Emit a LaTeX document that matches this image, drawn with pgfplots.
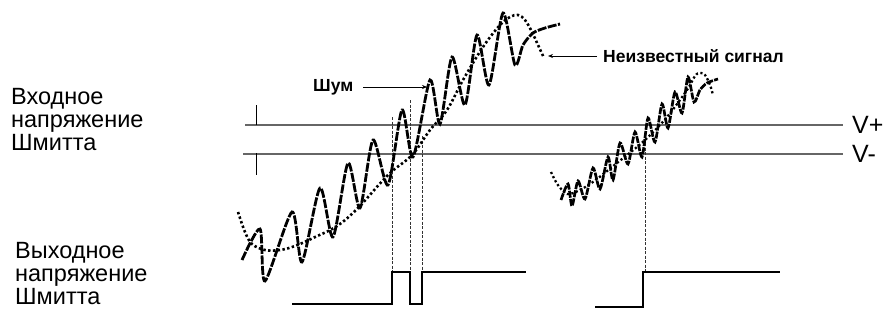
\documentclass[border=0pt]{standalone}
\usepackage{fontspec}
\setmainfont{Liberation Sans}
\usepackage{pgfplots}
\pgfplotsset{compat=1.18}
\usetikzlibrary{arrows.meta}
\begin{document}
\begin{tikzpicture}
\begin{axis}[scale only axis, width=887bp, height=309bp,
  xmin=0, xmax=887, ymin=0, ymax=309, y dir=reverse,
  hide axis, clip=false]
\path (rel axis cs:0,0) rectangle (rel axis cs:1,1);
% threshold lines
\addplot[gray!80!black, line width=1.3bp] coordinates {(245,125) (843,125)};
\addplot[gray!80!black, line width=1.3bp] coordinates {(243,154) (843,154)};
\addplot[black, line width=0.6bp] coordinates {(256,105) (256,125)};
\addplot[black, line width=0.6bp] coordinates {(256,153) (256,175)};
% dashed verticals
\addplot[black!80, line width=0.6bp, dash pattern=on 3bp off 1.5bp] coordinates {(392,117) (392,272)};
\addplot[black!80, line width=0.6bp, dash pattern=on 3bp off 1.5bp] coordinates {(410,100) (410,272)};
\addplot[black!80, line width=0.6bp, dash pattern=on 3bp off 1.5bp] coordinates {(422,136) (422,272)};
\addplot[black!80, line width=0.6bp, dash pattern=on 3bp off 1.5bp] coordinates {(645,143) (645,272)};
% trend 1 (dotted)
\addplot[black, line width=2.6bp, dash pattern=on 2.4bp off 2.4bp, smooth, tension=0.6] coordinates {
(238,212) (245,232) (252,244) (265,250) (280,250) (295,246) (313,238) (337,226) (358,208) (388,175) (412,155) (430,130) (447,110) (463,80) (483,47) (500,25) (510,17) (518,15) (525,20) (532,32) (538,45) (544,58)};
% noisy 1 (dashed)
\addplot[black, line width=2.8bp, dash pattern=on 9bp off 1.5bp, smooth, tension=0.45] coordinates {
(242,260) (260,229) (265,281) (292,212) (302,262) (320,188) (333,237) (348,163) (360,208) (373,140) (388,185) (402,110) (413,157) (430,80) (440,124) (452,57) (465,105) (477,35) (489,85) (503,13) (515,65) (523,45) (533,33) (545,28) (560,24)};
% trend 2
\addplot[black, line width=2.3bp, dash pattern=on 2.2bp off 2.4bp, smooth, tension=0.6] coordinates {
(551,172) (556,182) (562,190) (570,194) (590,184) (617,163) (645,140) (667,117) (687,90) (695,76) (700,73) (705,75) (710,85) (713,95)};
% noisy 2
\addplot[black, line width=2.7bp, dash pattern=on 7bp off 1.2bp, smooth, tension=0.45] coordinates {
(561,200) (568,184) (572,206) (578,181) (585,199) (593,168) (600,189) (608,157) (613,180) (620,143) (628,164) (635,132) (642,157) (648,118) (655,142) (662,104) (668,128) (675,92) (682,113) (688,77) (694,102) (700,90) (707,83) (718,79)};
% outputs
\addplot[black, line width=2.2bp] coordinates {(292,304) (392,304) (392,272) (410,272) (410,304) (422,304) (422,272) (526,272)};
\addplot[black, line width=2.2bp] coordinates {(595,307) (643,307) (643,272) (780,272)};
% arrows
\draw[-{Stealth[length=5bp,width=4bp]}, line width=0.7bp] (axis cs:363,87) -- (axis cs:427,87);
\draw[-{Stealth[length=5bp,width=4bp]}, line width=0.7bp] (axis cs:597,56) -- (axis cs:548,56);
% labels
\node[anchor=base west, font=\fontsize{23.5bp}{25bp}\selectfont, inner sep=0] at (axis cs:11,104) {Входное};
\node[anchor=base west, font=\fontsize{23.5bp}{25bp}\selectfont, inner sep=0] at (axis cs:11,127) {напряжение};
\node[anchor=base west, font=\fontsize{23.5bp}{25bp}\selectfont, inner sep=0] at (axis cs:11,150) {Шмитта};
\node[anchor=base west, font=\fontsize{23.5bp}{25bp}\selectfont, inner sep=0] at (axis cs:15,258) {Выходное};
\node[anchor=base west, font=\fontsize{23.5bp}{25bp}\selectfont, inner sep=0] at (axis cs:15,281) {напряжение};
\node[anchor=base west, font=\fontsize{23.5bp}{25bp}\selectfont, inner sep=0] at (axis cs:15,304) {Шмитта};
\node[anchor=west, font=\fontsize{25bp}{27bp}\selectfont, inner sep=0] at (axis cs:852,125) {V+};
\node[anchor=west, font=\fontsize{25bp}{27bp}\selectfont, inner sep=0] at (axis cs:852,154) {V-};
\node[anchor=west, font=\bfseries\fontsize{17.5bp}{19bp}\selectfont, inner sep=0] at (axis cs:313,87) {Шум};
\node[anchor=west, font=\bfseries\fontsize{17.5bp}{19bp}\selectfont, inner sep=0] at (axis cs:603,56) {Неизвестный сигнал};
\end{axis}
\end{tikzpicture}
\end{document}
